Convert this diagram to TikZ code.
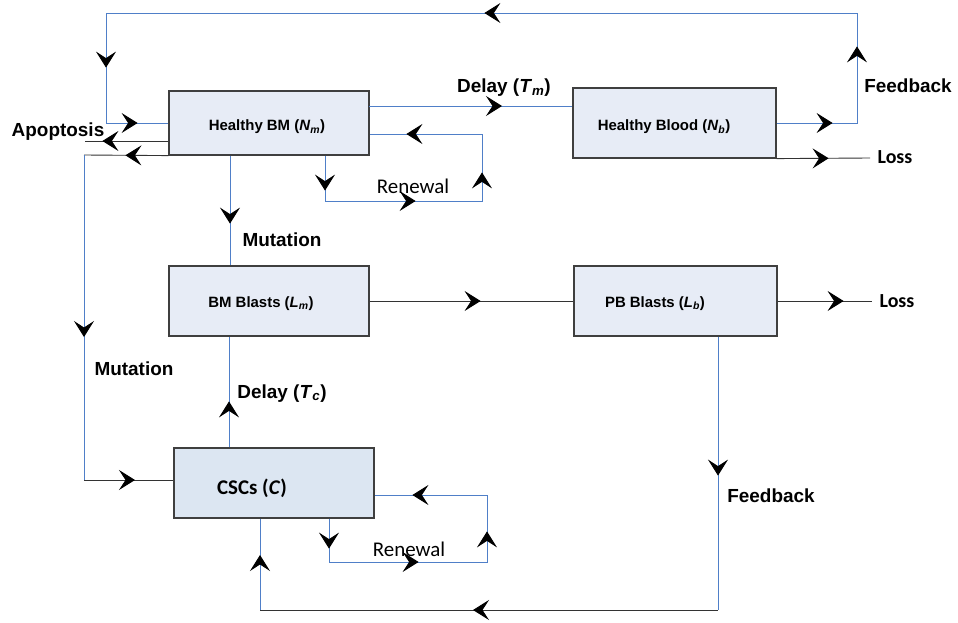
\documentclass[tikz,border=0pt]{standalone}
\usepackage{fontspec}
\setmainfont{Liberation Sans}
\newfontfamily\calib{Carlito}
\usetikzlibrary{arrows.meta,decorations.markings,calc}
\definecolor{lnblue}{HTML}{4F7FC8}
\definecolor{boxfill}{HTML}{E7ECF6}
\definecolor{cscfill}{HTML}{DCE6F2}
\definecolor{boxline}{HTML}{3F3F3F}
\definecolor{lngray}{HTML}{333333}
\begin{document}
\begin{tikzpicture}[x=1bp,y=-1bp,
  >={Stealth[length=16bp,width=20bp,inset=6.5bp,black]},
  box/.style={draw=boxline, line width=1.2bp, fill=boxfill, inner sep=0pt},
  bl/.style={draw=lnblue, line width=0.9bp},
  gl/.style={draw=lngray, line width=0.9bp},
  mk/.style={postaction={decorate,decoration={markings,mark=at position #1 with {\arrow{>}}}}},
  boxtxt/.style={font=\fontsize{15}{18}\selectfont\bfseries, anchor=base, inner sep=0pt},
  lbl/.style={font=\fontsize{19}{22}\selectfont\bfseries, anchor=base, inner sep=0pt},
  calb/.style={font=\calib\fontsize{20}{24}\selectfont\bfseries, anchor=base, inner sep=0pt},
  calr/.style={font=\calib\fontsize{21}{24}\selectfont, anchor=base, inner sep=0pt}]
\useasboundingbox (0,0) rectangle (958,623);

% boxes
\node[box, minimum width=200bp, minimum height=64bp] (hbm) at (269,123) {};
\node[box, minimum width=203bp, minimum height=70bp] (hb) at (674.5,123) {};
\node[box, minimum width=200bp, minimum height=70bp] (bmb) at (269,301) {};
\node[box, minimum width=203bp, minimum height=70bp] (pbb) at (675.5,301) {};
\node[box, fill=cscfill, minimum width=200bp, minimum height=70bp] (csc) at (274,483) {};

\node[boxtxt] (hbmT) at (267,131) {Healthy BM (\textit{N}\textsubscript{\textit{m}})};
\node[boxtxt] (hbT) at (664,131) {Healthy Blood (\textit{N}\textsubscript{\textit{b}})};
\node[boxtxt] (bmbT) at (261,307) {BM Blasts (\textit{L}\textsubscript{\textit{m}})};
\node[boxtxt] (pbbT) at (655,307) {PB Blasts (\textit{L}\textsubscript{\textit{b}})};
\node[calb, font=\calib\fontsize{21}{24}\selectfont\bfseries] (cscT) at (252,494) {CSCs (\textit{C})};

% coordinates
\coordinate (t1) at (857,123);
\coordinate (t2) at (857,13);
\coordinate (t3) at (106,13);
\coordinate (t4) at (106,123);
\coordinate (d1) at (369,106);
\coordinate (r1) at (325,201);
\coordinate (r2) at (482,201);
\coordinate (r3) at (482,134);
\coordinate (ap) at (85,141);
\coordinate (m1) at (84,155);
\coordinate (m2) at (84,480);
\coordinate (v1) at (230,200);
\coordinate (l1) at (870,158);
\coordinate (l2) at (872,301);
\coordinate (v2) at (229,400);
\coordinate (f1) at (718,610);
\coordinate (f2) at (260,610);
\coordinate (c1) at (329,562);
\coordinate (c2) at (487,562);
\coordinate (c3) at (487,495);

% connectors
\draw[bl, mk=56bp, mk=157bp, mk=563bp, mk=996bp, mk=1083bp]
  (hb.east) -- (t1) -- (t2) -- (t3) -- (t4) -- (hbm.west);
\draw[bl, mk=133bp] (d1) -- (d1 -| hb.west);
\draw[bl, mk=35bp, mk=136bp, mk=231bp, mk=345bp]
  (hbm.south -| r1) -- (r1) -- (r2) -- (r3) -- (r3 -| hbm.east);
\draw[gl, mk=66bp] (ap -| hbm.west) -- (ap);
\draw[gl, mk=43bp] (hbm.south west) -- (m1);
\draw[bl, mk=182bp] (m1) -- (m2);
\draw[gl, mk=51bp] (m2) -- (m2 -| csc.west);
\draw[bl, mk=68bp] (hbm.south -| v1) -- (bmb.north -| v1);
\draw[gl, mk=52bp] (hb.south east) -- (l1);
\draw[gl, mk=111bp] (bmb.east) -- (pbb.west);
\draw[gl, mk=66bp] (pbb.east) -- (l2);
\draw[bl, mk=46bp] (csc.north -| v2) -- (bmb.south -| v2);
\draw[bl, mk=139bp] (pbb.south -| f1) -- (f1);
\draw[gl, mk=245bp] (f1) -- (f2);
\draw[bl, mk=55bp] (f2) -- (csc.south -| f2);
\draw[bl, mk=30bp, mk=133bp, mk=232bp, mk=343bp]
  (csc.south -| c1) -- (c1) -- (c2) -- (c3) -- (c3 -| csc.east);

% labels
\node[lbl] (apT) at (58,137) {Apoptosis};
\node[lbl] (dmT) at (504,93) {Delay (\textit{T}\textsubscript{\textit{m}})};
\node[lbl] (fbT) at (908,93) {Feedback};
\node[calb] (ls1) at (895,164) {Loss};
\node[lbl] (mu1) at (282,247) {Mutation};
\node[calb] (ls2) at (897,307) {Loss};
\node[lbl] (mu2) at (134,375) {Mutation};
\node[lbl] (dcT) at (282,398) {Delay (\textit{T}\textsubscript{\textit{c}})};
\node[lbl] (fb2) at (771,502) {Feedback};
\node[calr] (rn1) at (413,194) {Renewal};
\node[calr] (rn2) at (409,556) {Renewal};
\end{tikzpicture}
\end{document}
